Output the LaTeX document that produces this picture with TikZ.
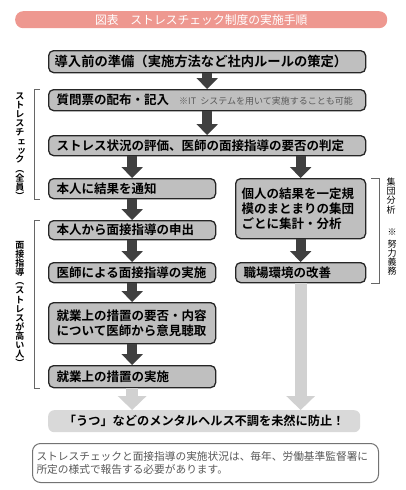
\documentclass[tikz,border=0pt]{standalone}
\usepackage{fontspec}
\setmainfont{Noto Sans CJK JP}[BoldFont={Noto Sans CJK JP Bold}]
\usetikzlibrary{arrows.meta}
\definecolor{titlepink}{RGB}{238,152,144}
\newcommand{\sk}[1]{\hspace*{3pt}#1}

\begin{document}
\begin{tikzpicture}[x=1pt, y=-1pt,
    box/.style={draw=black!85, line width=1.3pt, fill=black!25, rounded corners=5pt, anchor=north west, inner xsep=8pt, inner ysep=0pt, align=left, font=\fontsize{12.5}{15}\selectfont\bfseries},
    darr/.style={line width=10pt, black!75, -{Triangle[width=21pt,length=11pt]}},
    larr/.style={line width=12pt, black!18, -{Triangle[width=28pt,length=14pt]}},
    brk/.style={draw=black!60, line width=0.8pt},
    vlab/.style={align=center, inner sep=0pt, font=\fontsize{9}{9.1}\selectfont}]
    \useasboundingbox (0,0) rectangle (406,490);
    \node[fill=titlepink, rounded corners=8pt, anchor=north west, minimum width=372pt, minimum height=17pt, inner sep=0pt, text=white, font=\fontsize{11.8}{12}\selectfont] (title) at (15,11) {図表　ストレスチェック制度の実施手順};
    \node[box, text width=305pt, inner xsep=6pt, minimum height=22pt, font=\fontsize{13.3}{15}\selectfont\bfseries] (prep) at (48,50) {導入前の準備（実施方法など社内ルールの策定）};
    \node[box, text width=301pt, minimum height=21pt] (quest) at (48,89) {質問票の配布・記入\hspace{10pt}{\mdseries\fontsize{9}{10}\selectfont\color{black!65}※IT システムを用いて実施することも可能}};
    \node[box, text width=301pt, minimum height=20pt] (eval) at (48,135) {ストレス状況の評価、医師の面接指導の要否の判定};
    \node[box, text width=151pt, minimum height=20pt] (notify) at (48,178) {本人に結果を通知};
    \node[box, text width=118pt, inner xsep=6pt, minimum height=60pt] (analysis) at (235,178) {個人の結果を一定規\\模のまとまりの集団\\ごとに集計・分析};
    \node[box, text width=151pt, minimum height=19pt] (request) at (48,220) {本人から面接指導の申出};
    \node[box, text width=151pt, minimum height=20pt] (interview) at (48,262) {医師による面接指導の実施};
    \node[box, text width=114pt, minimum height=20pt] (improve) at (235,262) {職場環境の改善};
    \node[box, text width=151pt, minimum height=41pt] (opinion) at (48,302) {就業上の措置の要否・内容\\について医師から意見聴取};
    \node[box, text width=151pt, minimum height=22pt] (measure) at (48,365) {就業上の措置の実施};
    \node[fill=black!15, rounded corners=6pt, anchor=north west, minimum width=312pt, minimum height=22pt, inner sep=0pt, font=\fontsize{12.2}{14}\selectfont\bfseries] (goal) at (48,410) {「うつ」などのメンタルヘルス不調を未然に防止！};
    \node[draw=black!55, line width=1pt, fill=white, rounded corners=8pt, anchor=north west, text width=338pt, inner xsep=4pt, minimum height=39pt, align=left, text=black!65, font=\fontsize{10.7}{12.7}\selectfont] (note) at (32,443) {ストレスチェックと面接指導の実施状況は、毎年、労働基準監督署に\\所定の様式で報告する必要があります。};
    \draw[darr] (prep.south) -- (quest.north);
    \draw[darr] (quest.south) -- (eval.north);
    \draw[darr] (eval.south -| notify.north) -- (notify.north);
    \draw[darr] (eval.south -| analysis.north) -- (analysis.north);
    \draw[darr] (notify.south) -- (request.north);
    \draw[darr] (request.south) -- (interview.north);
    \draw[darr] (analysis.south) -- (improve.north);
    \draw[darr] (interview.south) -- (opinion.north);
    \draw[darr] (opinion.south) -- (measure.north);
    \draw[larr] (measure.south) -- (goal.north -| measure.south);
    \draw[larr] (improve.south) -- (goal.north -| improve.south);
    \draw[brk] ([xshift=-8pt]quest.north west) -- ++(-6,0) |- ([xshift=-8pt]notify.south west);
    \draw[brk] ([xshift=-8pt]request.north west) -- ++(-6,0) |- ([xshift=-8pt]measure.south west);
    \draw[brk] ([xshift=5pt]analysis.north east) -- ++(8,0) |- ([xshift=5pt]improve.south east);
    \node[vlab, font=\fontsize{9}{9.1}\selectfont\bfseries] (allstaff) at (20,146) {ス\\ト\\レ\\ス\\チ\\\sk{ェ}\\\sk{ッ}\\ク\\︵\\全\\員\\︶};
    \node[vlab, font=\fontsize{9}{9.1}\selectfont\bfseries] (highstress) at (20,304) {面\\接\\指\\導\\︵\\ス\\ト\\レ\\ス\\が\\高\\い\\人\\︶};
    \node[vlab] (groupan) at (391,196) {集\\団\\分\\析};
    \node[vlab] (effort) at (392,252) {※\\[3pt]努\\力\\義\\務};
\end{tikzpicture}
\end{document}
